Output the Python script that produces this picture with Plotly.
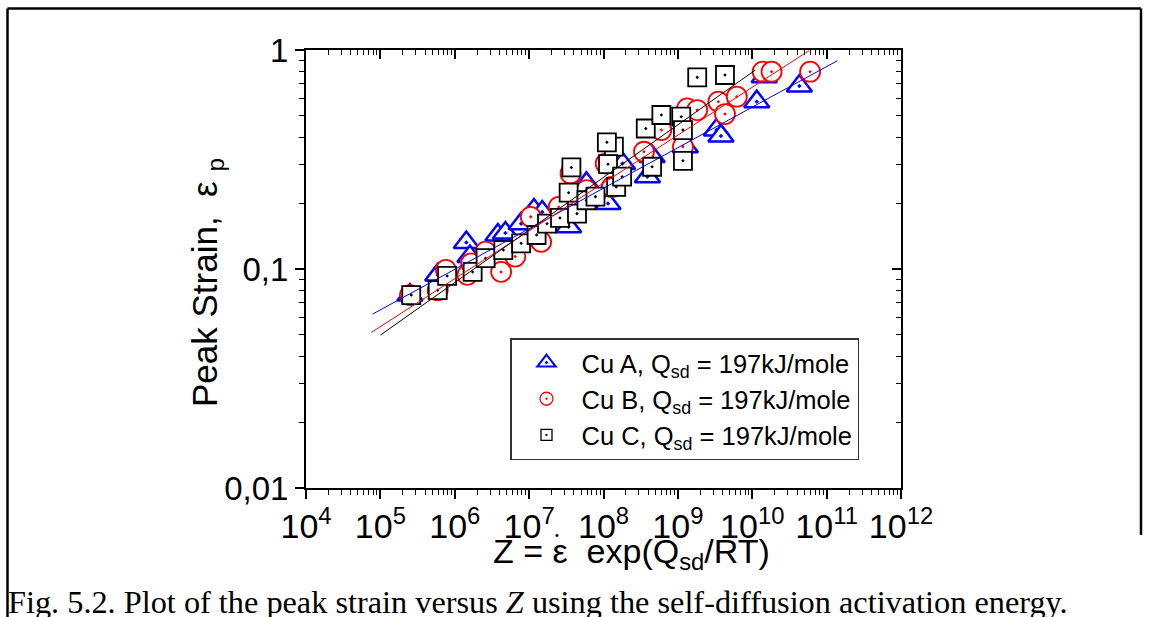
import plotly.graph_objects as go

# ---------------- data ----------------
z_a = [2.5e5, 5.9e5, 1.43e6, 1.6e6, 3.8e6, 4.8e6, 7.8e6, 1.16e7, 1.5e7, 3.4e7,
       5.9e7, 1.15e8, 1.8e8, 3.9e8, 4.5e8, 1.26e9, 3.3e9, 3.8e9, 1.15e10, 1.45e10, 4.3e10]
eps_a = [0.076, 0.094, 0.132, 0.114, 0.143, 0.146, 0.161, 0.186, 0.182, 0.156,
         0.246, 0.199, 0.303, 0.264, 0.326, 0.362, 0.431, 0.405, 0.581, 0.755, 0.685]

z_b = [2.5e5, 5.9e5, 7.6e5, 1.48e6, 1.66e6, 2.6e6, 4.2e6, 6.5e6, 1.05e7, 1.45e7,
       2.5e7, 3.6e7, 5.9e7, 1.07e8, 1.29e8, 3.5e8, 6.0e8, 1.17e9, 1.33e9, 1.82e9,
       3.5e9, 4.3e9, 6.2e9, 1.38e10, 1.82e10, 6.0e10]
eps_b = [0.076, 0.080, 0.099, 0.094, 0.106, 0.120, 0.097, 0.114, 0.173, 0.133,
         0.192, 0.273, 0.229, 0.303, 0.237, 0.343, 0.431, 0.362, 0.541, 0.532,
         0.581, 0.510, 0.612, 0.796, 0.796, 0.796]

z_c = [2.6e5, 5.9e5, 7.9e5, 1.74e6, 2.6e6, 4.5e6, 7.8e6, 1.26e7, 1.74e7, 2.6e7,
       3.4e7, 3.7e7, 4.4e7, 5.9e7, 7.8e7, 1.38e8, 1.11e8, 1.15e8, 1.48e8, 1.78e8,
       3.7e8, 4.5e8, 6.0e8, 1.11e9, 1.17e9, 1.17e9, 1.82e9, 4.3e9]
eps_c = [0.076, 0.080, 0.093, 0.097, 0.112, 0.122, 0.131, 0.143, 0.161, 0.171,
         0.223, 0.291, 0.179, 0.206, 0.214, 0.362, 0.379, 0.301, 0.237, 0.264,
         0.438, 0.293, 0.505, 0.496, 0.431, 0.312, 0.750, 0.769]

# fitted lines (end points)
fit_a_z = [7.83e4, 1.40e11]
fit_a_eps = [0.0622, 0.894]
fit_b_z = [7.55e4, 5.81e10]
fit_b_eps = [0.0513, 0.993]
fit_c_z = [1.0e5, 1.10e10]
fit_c_eps = [0.0499, 0.810]

series_names = ["Cu A, Q<sub>sd</sub> = 197kJ/mole",
                "Cu B, Q<sub>sd</sub> = 197kJ/mole",
                "Cu C, Q<sub>sd</sub> = 197kJ/mole"]

x_tickvals = [1e4, 1e5, 1e6, 1e7, 1e8, 1e9, 1e10, 1e11, 1e12]
x_ticktext = ["10<sup>4</sup>", "10<sup>5</sup>", "10<sup>6</sup>", "10<sup>7</sup>",
              "10<sup>8</sup>", "10<sup>9</sup>", "10<sup>10</sup>", "10<sup>11</sup>",
              "10<sup>12</sup>"]
y_tickvals = [0.01, 0.1, 1]
y_ticktext = ["0,01", "0,1", "1"]

x_title = "Z = \u03b5  exp(Q<sub>sd</sub>/RT)"
x_title_dot = "\u2022"
y_title = "Peak Strain,  \u03b5 <sub>p</sub>"
caption = "Fig. 5.2. Plot of the peak strain versus <i>Z</i> using the self-diffusion activation energy."

# ---------------- layout helpers ----------------
W, H = 1154, 617
L, R, T, B = 306, 901, 50, 488
FONT = "Liberation Sans, Arial, sans-serif"


def px(x):
    return (x - L) / (R - L)


def py(y):
    return (B - y) / (B - T)


BLUE, RED, BLACK = "#0000FF", "#FF0000", "#000000"

fig = go.Figure()

fig.add_trace(go.Scatter(x=z_a, y=eps_a, mode="markers", showlegend=False,
                         marker=dict(symbol="triangle-up-dot", size=22, color="white",
                                     line=dict(color=BLUE, width=2.5))))
fig.add_trace(go.Scatter(x=z_b, y=eps_b, mode="markers", showlegend=False,
                         marker=dict(symbol="circle-dot", size=20, color="white",
                                     line=dict(color=RED, width=1.8))))
fig.add_trace(go.Scatter(x=z_c, y=eps_c, mode="markers", showlegend=False,
                         marker=dict(symbol="square-dot", size=18, color="white",
                                     line=dict(color=BLACK, width=1.8))))

for fx, fy, col in [(fit_a_z, fit_a_eps, BLUE), (fit_b_z, fit_b_eps, RED), (fit_c_z, fit_c_eps, BLACK)]:
    fig.add_trace(go.Scatter(x=fx, y=fy, mode="lines", showlegend=False,
                             line=dict(color=col, width=1)))

# legend-only entries (smaller symbols, as in the reference legend)
leg_specs = [("triangle-up-open-dot", 16, BLUE, 2),
             ("circle-open-dot", 13, RED, 1.3),
             ("square-open-dot", 11, BLACK, 1.3)]
for name, (sym, sz, col, lw) in zip(series_names, leg_specs):
    fig.add_trace(go.Scatter(x=[None], y=[None], mode="markers", name=name,
                             marker=dict(symbol=sym, size=sz, color=col,
                                         line=dict(color=col, width=lw))))

# dummy trace for the mirrored (top/right) axes
fig.add_trace(go.Scatter(x=[None], y=[None], xaxis="x2", yaxis="y2",
                         showlegend=False, hoverinfo="skip"))

minor_out = dict(ticks="outside", ticklen=5, tickwidth=1.2, tickcolor="black", dtick="D1", showgrid=False)
minor_in = dict(ticks="inside", ticklen=5, tickwidth=1.2, tickcolor="black", dtick="D1", showgrid=False)

common = dict(showline=True, linewidth=2, linecolor="black", showgrid=False,
              zeroline=False, tickcolor="black", tickwidth=1.5)

fig.update_layout(
    width=W, height=H, autosize=False,
    margin=dict(l=L, r=W - R, t=T, b=H - B, pad=0),
    paper_bgcolor="white", plot_bgcolor="white",
    font=dict(family=FONT, color="black"),
    xaxis=dict(type="log", range=[4, 12], tickmode="array", tickvals=x_tickvals,
               ticktext=x_ticktext, ticks="outside", ticklen=9, ticklabelstandoff=-2,
               tickfont=dict(size=34, family=FONT, color="black"),
               minor=minor_out, **common),
    yaxis=dict(type="log", range=[-2, 0], tickmode="array", tickvals=y_tickvals,
               ticktext=y_ticktext, ticks="outside", ticklen=9,
               tickfont=dict(size=33, family=FONT, color="black"),
               minor=minor_out, **common),
    xaxis2=dict(type="log", range=[4, 12], overlaying="x", side="top", anchor="y",
                tickmode="array", tickvals=x_tickvals, ticks="inside", ticklen=9,
                showticklabels=False, minor=minor_in, **common),
    yaxis2=dict(type="log", range=[-2, 0], overlaying="y", side="right", anchor="x",
                tickmode="array", tickvals=y_tickvals, ticks="inside", ticklen=9,
                showticklabels=False, minor=minor_in, **common),
    legend=dict(x=px(510), y=py(338), xanchor="left", yanchor="top",
                bgcolor="white", bordercolor="#333333", borderwidth=1.5,
                font=dict(size=25.5, family=FONT, color="black"),
                itemwidth=60, tracegroupgap=0),
    showlegend=True,
)

fig.add_annotation(x=px(631), y=py(553), xref="paper", yref="paper", text=x_title,
                   showarrow=False, xanchor="center", yanchor="middle",
                   font=dict(size=34, family=FONT, color="black"))
fig.add_annotation(x=px(557), y=py(535), xref="paper", yref="paper", text=x_title_dot,
                   showarrow=False, xanchor="center", yanchor="middle",
                   font=dict(size=11, family=FONT, color="black"))
fig.add_annotation(x=px(207), y=py(283), xref="paper", yref="paper", text=y_title,
                   showarrow=False, xanchor="center", yanchor="middle", textangle=-90,
                   font=dict(size=35, family=FONT, color="black"))
fig.add_annotation(x=px(6), y=py(602), xref="paper", yref="paper", text=caption,
                   showarrow=False, xanchor="left", yanchor="middle",
                   font=dict(size=32.3, family="Liberation Serif, Times New Roman, serif", color="black"))

# page border lines
border = dict(color="black", width=2.5)
fig.add_shape(type="line", xref="paper", yref="paper", x0=px(7.5), x1=px(1141), y0=py(8.5), y1=py(8.5), line=border)
fig.add_shape(type="line", xref="paper", yref="paper", x0=px(7.5), x1=px(7.5), y0=py(8.5), y1=py(617), line=border)
fig.add_shape(type="line", xref="paper", yref="paper", x0=px(1141), x1=px(1141), y0=py(8.5), y1=py(535), line=border)

fig.write_html("out.html", config={"displayModeBar": False},
               post_script="document.body.style.margin='0px';")
